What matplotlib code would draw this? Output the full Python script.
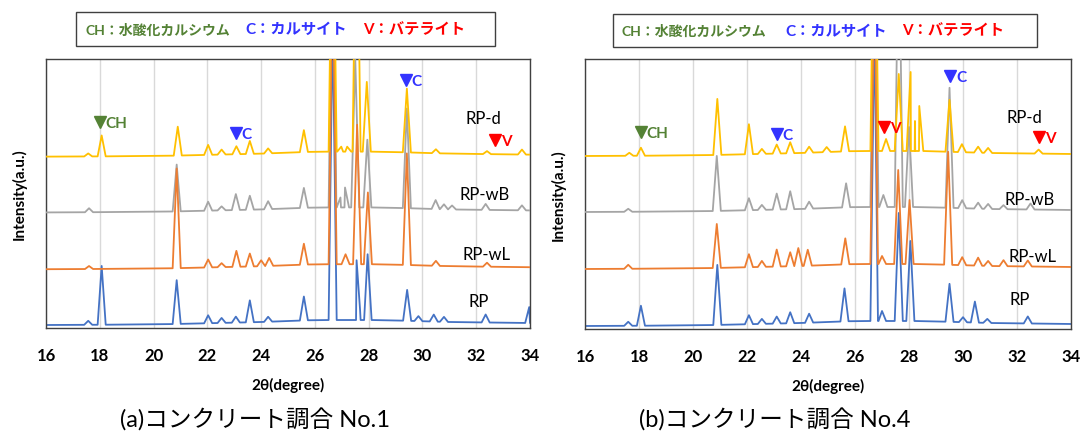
import matplotlib
matplotlib.use("Agg")
import matplotlib.pyplot as plt
import numpy as np

plt.rcParams['font.family'] = ['Lato', 'Noto Sans CJK JP', 'DejaVu Sans']

# --- data (peak position in 2theta, peak height in a.u.) ---
series_names = ['RP', 'RP-wL', 'RP-wB', 'RP-d']
series_colors = ['#4472C4', '#ED7D31', '#A5A5A5', '#FFC000']
series_zorder = [2, 4, 3, 5]

# background hump shared by all traces
bg_x = [16, 20, 24, 26, 28.5, 31, 34]
bg_y = [0, 0.5, 3, 5, 5, 3, 2]

# (a) mix No.1
a_offsets = [3, 59, 116, 172]
a_RP_pos = [17.57, 18.07, 20.86, 22.03, 22.53, 23.06, 23.58, 24.26, 25.59, 26.66, 27.55, 27.68, 27.96, 29.43, 29.85, 30.42, 30.8, 32.35, 33.97]
a_RP_h = [4, 59, 44, 8, 5, 6, 22, 5, 24, 300, 60, 10, 66, 31, 5, 7, 5, 8, 16]
a_wL_pos = [17.6, 20.86, 22.03, 22.53, 23.08, 23.58, 24.0, 24.3, 25.59, 26.66, 27.14, 27.57, 27.97, 29.42, 30.5, 32.4]
a_wL_h = [3, 100, 8, 4, 16, 13, 6, 8, 21, 300, 10, 140, 72, 112, 5, 4]
a_wB_pos = [17.6, 20.86, 22.03, 22.53, 23.06, 23.58, 24.26, 25.59, 26.66, 26.95, 27.12, 27.5, 27.95, 29.42, 30.49, 30.8, 31.1, 32.35, 33.7]
a_wB_h = [4, 47, 9, 4, 16, 14, 8, 20, 300, 10, 20, 150, 68, 100, 9, 5, 4, 6, 5]
a_d_pos = [17.57, 18.07, 20.9, 22.03, 22.53, 23.08, 23.58, 24.26, 25.59, 26.66, 26.98, 27.2, 27.55, 27.93, 29.42, 30.5, 32.4, 33.7]
a_d_h = [3, 21, 29, 10, 5, 8, 13, 5, 22, 300, 5, 5, 300, 70, 64, 4, 3, 5]

# (b) mix No.4
b_offsets = [3, 60, 117, 173]
b_RP_pos = [17.6, 18.07, 20.9, 22.07, 22.55, 23.1, 23.6, 24.3, 25.61, 26.72, 27.0, 27.62, 28.05, 29.5, 30.0, 30.44, 30.9, 32.4]
b_RP_h = [4, 20, 60, 9, 5, 7, 11, 9, 33, 300, 10, 108, 80, 38, 5, 21, 4, 7]
b_wL_pos = [17.6, 20.88, 22.07, 22.55, 23.1, 23.6, 23.9, 24.25, 25.64, 26.72, 27.0, 27.6, 28.02, 29.45, 29.97, 30.56, 30.93, 31.5, 32.4]
b_wL_h = [4, 44, 13, 6, 17, 14, 18, 16, 26, 300, 8, 94, 64, 113, 8, 8, 5, 6, 6]
b_wB_pos = [17.6, 20.88, 22.07, 22.55, 23.1, 23.6, 24.3, 25.67, 26.72, 27.05, 27.62, 28.0, 29.5, 29.97, 30.56, 30.93, 31.5, 32.5]
b_wB_h = [3, 55, 12, 5, 16, 18, 7, 24, 300, 12, 300, 80, 120, 8, 6, 5, 4, 6]
b_d_pos = [17.64, 18.07, 20.9, 22.07, 22.55, 23.1, 23.6, 24.3, 24.95, 25.63, 26.72, 27.15, 27.62, 28.06, 28.22, 28.38, 29.5, 29.96, 30.56, 30.93, 32.8]
b_d_h = [3, 8, 56, 30, 5, 9, 11, 6, 5, 25, 300, 12, 77, 79, 30, 45, 52, 8, 6, 5, 4]

# series labels (x, y) and phase markers (x, y, text, colour)
a_label_x = [32.1, 32.4, 32.3, 32.25]
a_label_y = [27, 74, 134, 211]
b_label_x = [32.1, 32.56, 32.45, 32.27]
b_label_y = [30, 73, 130, 212]

green, blue, red = '#548235', '#3333FF', '#FF0000'
a_mark_x = [18.0, 23.06, 29.38, 32.7]
a_mark_y = [207, 196, 249, 189]
a_mark_t = ['CH', 'C', 'C', 'V']
a_mark_c = [green, blue, blue, red]
b_mark_x = [18.07, 23.1, 27.09, 29.53, 32.82]
b_mark_y = [197, 195, 202, 253, 192]
b_mark_t = ['CH', 'C', 'V', 'C', 'V']
b_mark_c = [green, blue, red, blue, red]

PEAK_HALF_WIDTH = 0.15


def trace(pos, h, offset):
    xs = [16.0, 34.0]
    ys = [0.0, 0.0]
    for p, hh in zip(pos, h):
        xs += [p - PEAK_HALF_WIDTH, p, p + PEAK_HALF_WIDTH]
        ys += [0.0, hh, 0.0]
    order = np.argsort(xs, kind='stable')
    xs = np.array(xs)[order]
    ys = np.array(ys)[order]
    return xs, ys + offset + np.interp(xs, bg_x, bg_y)


def draw_panel(ax, peaks, offsets, lab_x, lab_y, mk_x, mk_y, mk_t, mk_c):
    for (pos, h), off, name, col, z, lx, ly in zip(peaks, offsets, series_names,
                                                  series_colors, series_zorder, lab_x, lab_y):
        xs, ys = trace(pos, h, off)
        ax.plot(xs, ys, color=col, lw=1.3, zorder=z)
        ax.text(lx, ly, name, ha='center', va='center', fontsize=12, zorder=6)
    for x, y, t, c in zip(mk_x, mk_y, mk_t, mk_c):
        ax.plot(x, y, marker='v', color=c, ms=9, ls='none', zorder=7)
        ax.text(x + 0.22, y - 1, t, color=c, fontsize=11, fontweight='bold',
                ha='left', va='center', zorder=7)
    ax.set_xlim(16, 34)
    ax.set_ylim(0, 270)
    ax.set_xticks(np.arange(16, 35, 2))
    ax.set_yticks([])
    ax.grid(axis='x', color='#D9D9D9', lw=1)
    ax.set_axisbelow(True)
    ax.tick_params(axis='x', length=0, pad=14, labelsize=12)
    for lbl in ax.get_xticklabels():
        lbl.set_fontweight('bold')
    for s in ax.spines.values():
        s.set_color('#404040')
        s.set_linewidth(1.0)
    ax.set_xlabel('2θ(degree)', fontsize=11, fontweight='bold', labelpad=10)
    ax.set_ylabel('Intensity(a.u.)', fontsize=11, fontweight='bold', labelpad=14)


fig = plt.figure(figsize=(10.85, 4.35), dpi=100)
ax1 = fig.add_axes([0.0424, 0.2437, 0.4461, 0.6184])
ax2 = fig.add_axes([0.5392, 0.2414, 0.4479, 0.6207])

draw_panel(ax1, [(a_RP_pos, a_RP_h), (a_wL_pos, a_wL_h), (a_wB_pos, a_wB_h), (a_d_pos, a_d_h)],
           a_offsets, a_label_x, a_label_y, a_mark_x, a_mark_y, a_mark_t, a_mark_c)
draw_panel(ax2, [(b_RP_pos, b_RP_h), (b_wL_pos, b_wL_h), (b_wB_pos, b_wB_h), (b_d_pos, b_d_h)],
           b_offsets, b_label_x, b_label_y, b_mark_x, b_mark_y, b_mark_t, b_mark_c)

# key boxes above each panel
legend_parts = [('CH：水酸化カルシウム', green, 10), ('C：カルサイト', blue, 11), ('V：バテライト', red, 11)]
for x0, y0, w, hgt, tx in [(75.7, 13, 419, 34, [85, 245, 363]), (613, 15, 424, 33, [622, 785, 902])]:
    fig.patches.append(plt.Rectangle((x0 / 1085, 1 - (y0 + hgt) / 435), w / 1085, hgt / 435,
                                     transform=fig.transFigure, fill=False, ec='#404040', lw=1.0))
    for (t, c, fs), px in zip(legend_parts, tx):
        fig.text(px / 1085, 1 - (y0 + hgt / 2) / 435, t, color=c, fontsize=fs,
                 fontweight='bold', ha='left', va='center')

fig.text(255 / 1085, 1 - 420 / 435, '(a)コンクリート調合 No.1', fontsize=17, ha='center', va='center')
fig.text(775 / 1085, 1 - 420 / 435, '(b)コンクリート調合 No.4', fontsize=17, ha='center', va='center')

fig.savefig('out.png', dpi=100)
